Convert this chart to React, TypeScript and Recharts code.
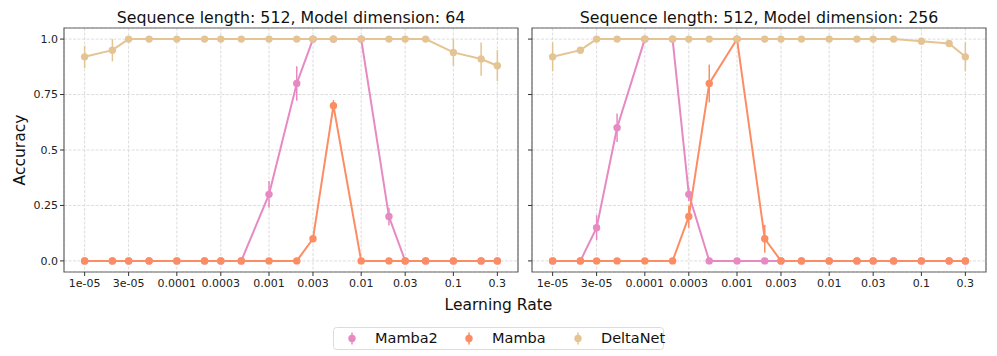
import {
  CartesianGrid,
  ErrorBar,
  Line,
  LineChart,
  ReferenceArea,
  XAxis,
  YAxis,
} from "recharts";

// learning rates swept in both runs
const learningRates = [
  1e-5, 2e-5, 3e-5, 5e-5, 1e-4, 2e-4, 3e-4, 5e-4, 1e-3, 2e-3, 3e-3, 5e-3,
  1e-2, 2e-2, 3e-2, 5e-2, 0.1, 0.2, 0.3,
];

const xTicks = [1e-5, 3e-5, 1e-4, 3e-4, 1e-3, 3e-3, 1e-2, 3e-2, 0.1, 0.3];
const xTickLabels = [
  "1e-05", "3e-05", "0.0001", "0.0003", "0.001", "0.003", "0.01", "0.03", "0.1", "0.3",
];
const yTicks = [0, 0.25, 0.5, 0.75, 1];
const yTickLabels = ["0.0", "0.25", "0.5", "0.75", "1.0"];

// model dimension 64
const mamba2Dim64 = [0, 0, 0, 0, 0, 0, 0, 0, 0.3, 0.8, 1, 1, 1, 0.2, 0, 0, 0, 0, 0];
const mamba2Dim64Err = [0, 0, 0, 0, 0, 0, 0, 0, 0.06, 0.078, 0, 0, 0, 0.04, 0, 0, 0, 0, 0];
const mambaDim64 = [0, 0, 0, 0, 0, 0, 0, 0, 0, 0, 0.1, 0.7, 0, 0, 0, 0, 0, 0, 0];
const mambaDim64Err = [0, 0, 0, 0, 0, 0, 0, 0, 0, 0, 0, 0.025, 0, 0, 0, 0, 0, 0, 0];
const deltaNetDim64 = [0.92, 0.95, 1, 1, 1, 1, 1, 1, 1, 1, 1, 1, 1, 1, 1, 1, 0.94, 0.91, 0.88];
const deltaNetDim64Err = [0.05, 0.05, 0, 0, 0, 0, 0, 0, 0, 0, 0, 0, 0, 0, 0, 0, 0.06, 0.075, 0.07];

// model dimension 256
const mamba2Dim256 = [0, 0, 0.15, 0.6, 1, 1, 0.3, 0, 0, 0, 0, 0, 0, 0, 0, 0, 0, 0, 0];
const mamba2Dim256Err = [0, 0, 0.056, 0.064, 0, 0, 0.03, 0, 0, 0, 0, 0, 0, 0, 0, 0, 0, 0, 0];
const mambaDim256 = [0, 0, 0, 0, 0, 0, 0.2, 0.8, 1, 0.1, 0, 0, 0, 0, 0, 0, 0, 0, 0];
const mambaDim256Err = [0, 0, 0, 0, 0, 0, 0.05, 0.085, 0, 0.063, 0, 0, 0, 0, 0, 0, 0, 0, 0];
const deltaNetDim256 = [0.92, 0.95, 1, 1, 1, 1, 1, 1, 1, 1, 1, 1, 1, 1, 1, 1, 0.99, 0.98, 0.92];
const deltaNetDim256Err = [0.065, 0.015, 0, 0, 0, 0, 0, 0, 0, 0, 0, 0, 0, 0, 0, 0, 0.005, 0.012, 0.065];

const COLORS = { mamba2: "#e78ac3", mamba: "#fc8d62", deltaNet: "#e5c494" };
const FONT = "'DejaVu Sans', sans-serif";

// 5% padding on the log axis, like matplotlib does
const logMin = Math.log10(learningRates[0]);
const logMax = Math.log10(learningRates[learningRates.length - 1]);
const pad = (logMax - logMin) * 0.05;
const xMin = Math.pow(10, logMin - pad);
const xMax = Math.pow(10, logMax + pad);

const buildRows = (
  m2: number[], m2e: number[], m: number[], me: number[], d: number[], de: number[]
) =>
  learningRates.map((lr, i) => ({
    lr,
    mamba2: m2[i],
    mamba2Err: m2e[i],
    mamba: m[i],
    mambaErr: me[i],
    deltaNet: d[i],
    deltaNetErr: de[i],
  }));

const dim64Rows = buildRows(mamba2Dim64, mamba2Dim64Err, mambaDim64, mambaDim64Err, deltaNetDim64, deltaNetDim64Err);
const dim256Rows = buildRows(mamba2Dim256, mamba2Dim256Err, mambaDim256, mambaDim256Err, deltaNetDim256, deltaNetDim256Err);

const xLabel = (v: number) => {
  const i = xTicks.findIndex((t) => Math.abs(Math.log10(t / v)) < 1e-6);
  return i >= 0 ? xTickLabels[i] : "";
};
const yLabel = (v: number) => {
  const i = yTicks.findIndex((t) => Math.abs(t - v) < 1e-9);
  return i >= 0 ? yTickLabels[i] : "";
};

const tickStyle = { fontSize: 11, fill: "#222", fontFamily: FONT };

const series = [
  { key: "mamba2", name: "Mamba2", color: COLORS.mamba2 },
  { key: "mamba", name: "Mamba", color: COLORS.mamba },
  { key: "deltaNet", name: "DeltaNet", color: COLORS.deltaNet },
];

const Panel = ({ left, rows, showYLabels }: { left: number; rows: any[]; showYLabels: boolean }) => (
  <div style={{ position: "absolute", left, top: 0 }}>
    <LineChart width={530} height={300} data={rows} margin={{ top: 28, right: 12, bottom: 0, left: 0 }}>
      <CartesianGrid stroke="#d4d4d4" strokeDasharray="3 1.5" strokeWidth={0.8} />
      <XAxis
        dataKey="lr"
        type="number"
        scale="log"
        domain={[xMin, xMax]}
        allowDataOverflow
        ticks={xTicks}
        interval={0}
        tickFormatter={xLabel}
        height={28}
        tickSize={4}
        tickMargin={3}
        axisLine={false}
        tickLine={{ stroke: "#333" }}
        tick={tickStyle}
      />
      <YAxis
        type="number"
        domain={[-0.05, 1.05]}
        allowDataOverflow
        ticks={yTicks}
        interval={0}
        tickFormatter={showYLabels ? yLabel : () => ""}
        width={64}
        tickSize={4}
        axisLine={false}
        tickLine={{ stroke: "#333" }}
        tick={tickStyle}
      />
      {series.map((s) => (
        <Line
          key={s.key}
          dataKey={s.key}
          stroke={s.color}
          strokeWidth={2}
          dot={{ r: 3.7, fill: s.color, stroke: s.color, strokeWidth: 0 }}
          activeDot={false}
          isAnimationActive={false}
        >
          <ErrorBar dataKey={s.key + "Err"} width={0} stroke={s.color} strokeWidth={1.5} isAnimationActive={false} />
        </Line>
      ))}
      <ReferenceArea x1={xMin} x2={xMax} y1={-0.05} y2={1.05} fill="none" stroke="#666" strokeWidth={1.2} ifOverflow="visible" />
    </LineChart>
  </div>
);

const legendItems = [
  { name: "Mamba2", color: COLORS.mamba2, mx: 352, tx: 375 },
  { name: "Mamba", color: COLORS.mamba, mx: 469, tx: 492 },
  { name: "DeltaNet", color: COLORS.deltaNet, mx: 578, tx: 601 },
];

export default function App() {
  return (
    <div style={{ position: "absolute", left: 0, top: 0, width: 997, height: 356, background: "#fff", overflow: "hidden" }}>
      <Panel left={0} rows={dim64Rows} showYLabels />
      <Panel left={468} rows={dim256Rows} showYLabels={false} />
      <svg width={997} height={356} style={{ position: "absolute", left: 0, top: 0, pointerEvents: "none" }} fontFamily={FONT}>
        <text x={291} y={22.5} textAnchor="middle" fontSize={15.8} fill="#111">
          Sequence length: 512, Model dimension: 64
        </text>
        <text x={759} y={22.5} textAnchor="middle" fontSize={15.8} fill="#111">
          Sequence length: 512, Model dimension: 256
        </text>
        <text x={498.5} y={309.5} textAnchor="middle" fontSize={15.5} fill="#111">
          Learning Rate
        </text>
        <text transform="translate(24.5,150) rotate(-90)" textAnchor="middle" fontSize={15.5} fill="#111">
          Accuracy
        </text>
        <rect x={333.5} y={327.5} width={330} height={22} rx={3} fill="#fff" stroke="#dcdcdc" />
        {legendItems.map((it) => (
          <g key={it.name}>
            <line x1={it.mx} x2={it.mx} y1={332.5} y2={344.5} stroke={it.color} strokeWidth={1.5} />
            <circle cx={it.mx} cy={338.5} r={3.7} fill={it.color} />
            <text x={it.tx} y={343} fontSize={14.5} fill="#111">
              {it.name}
            </text>
          </g>
        ))}
      </svg>
    </div>
  );
}
